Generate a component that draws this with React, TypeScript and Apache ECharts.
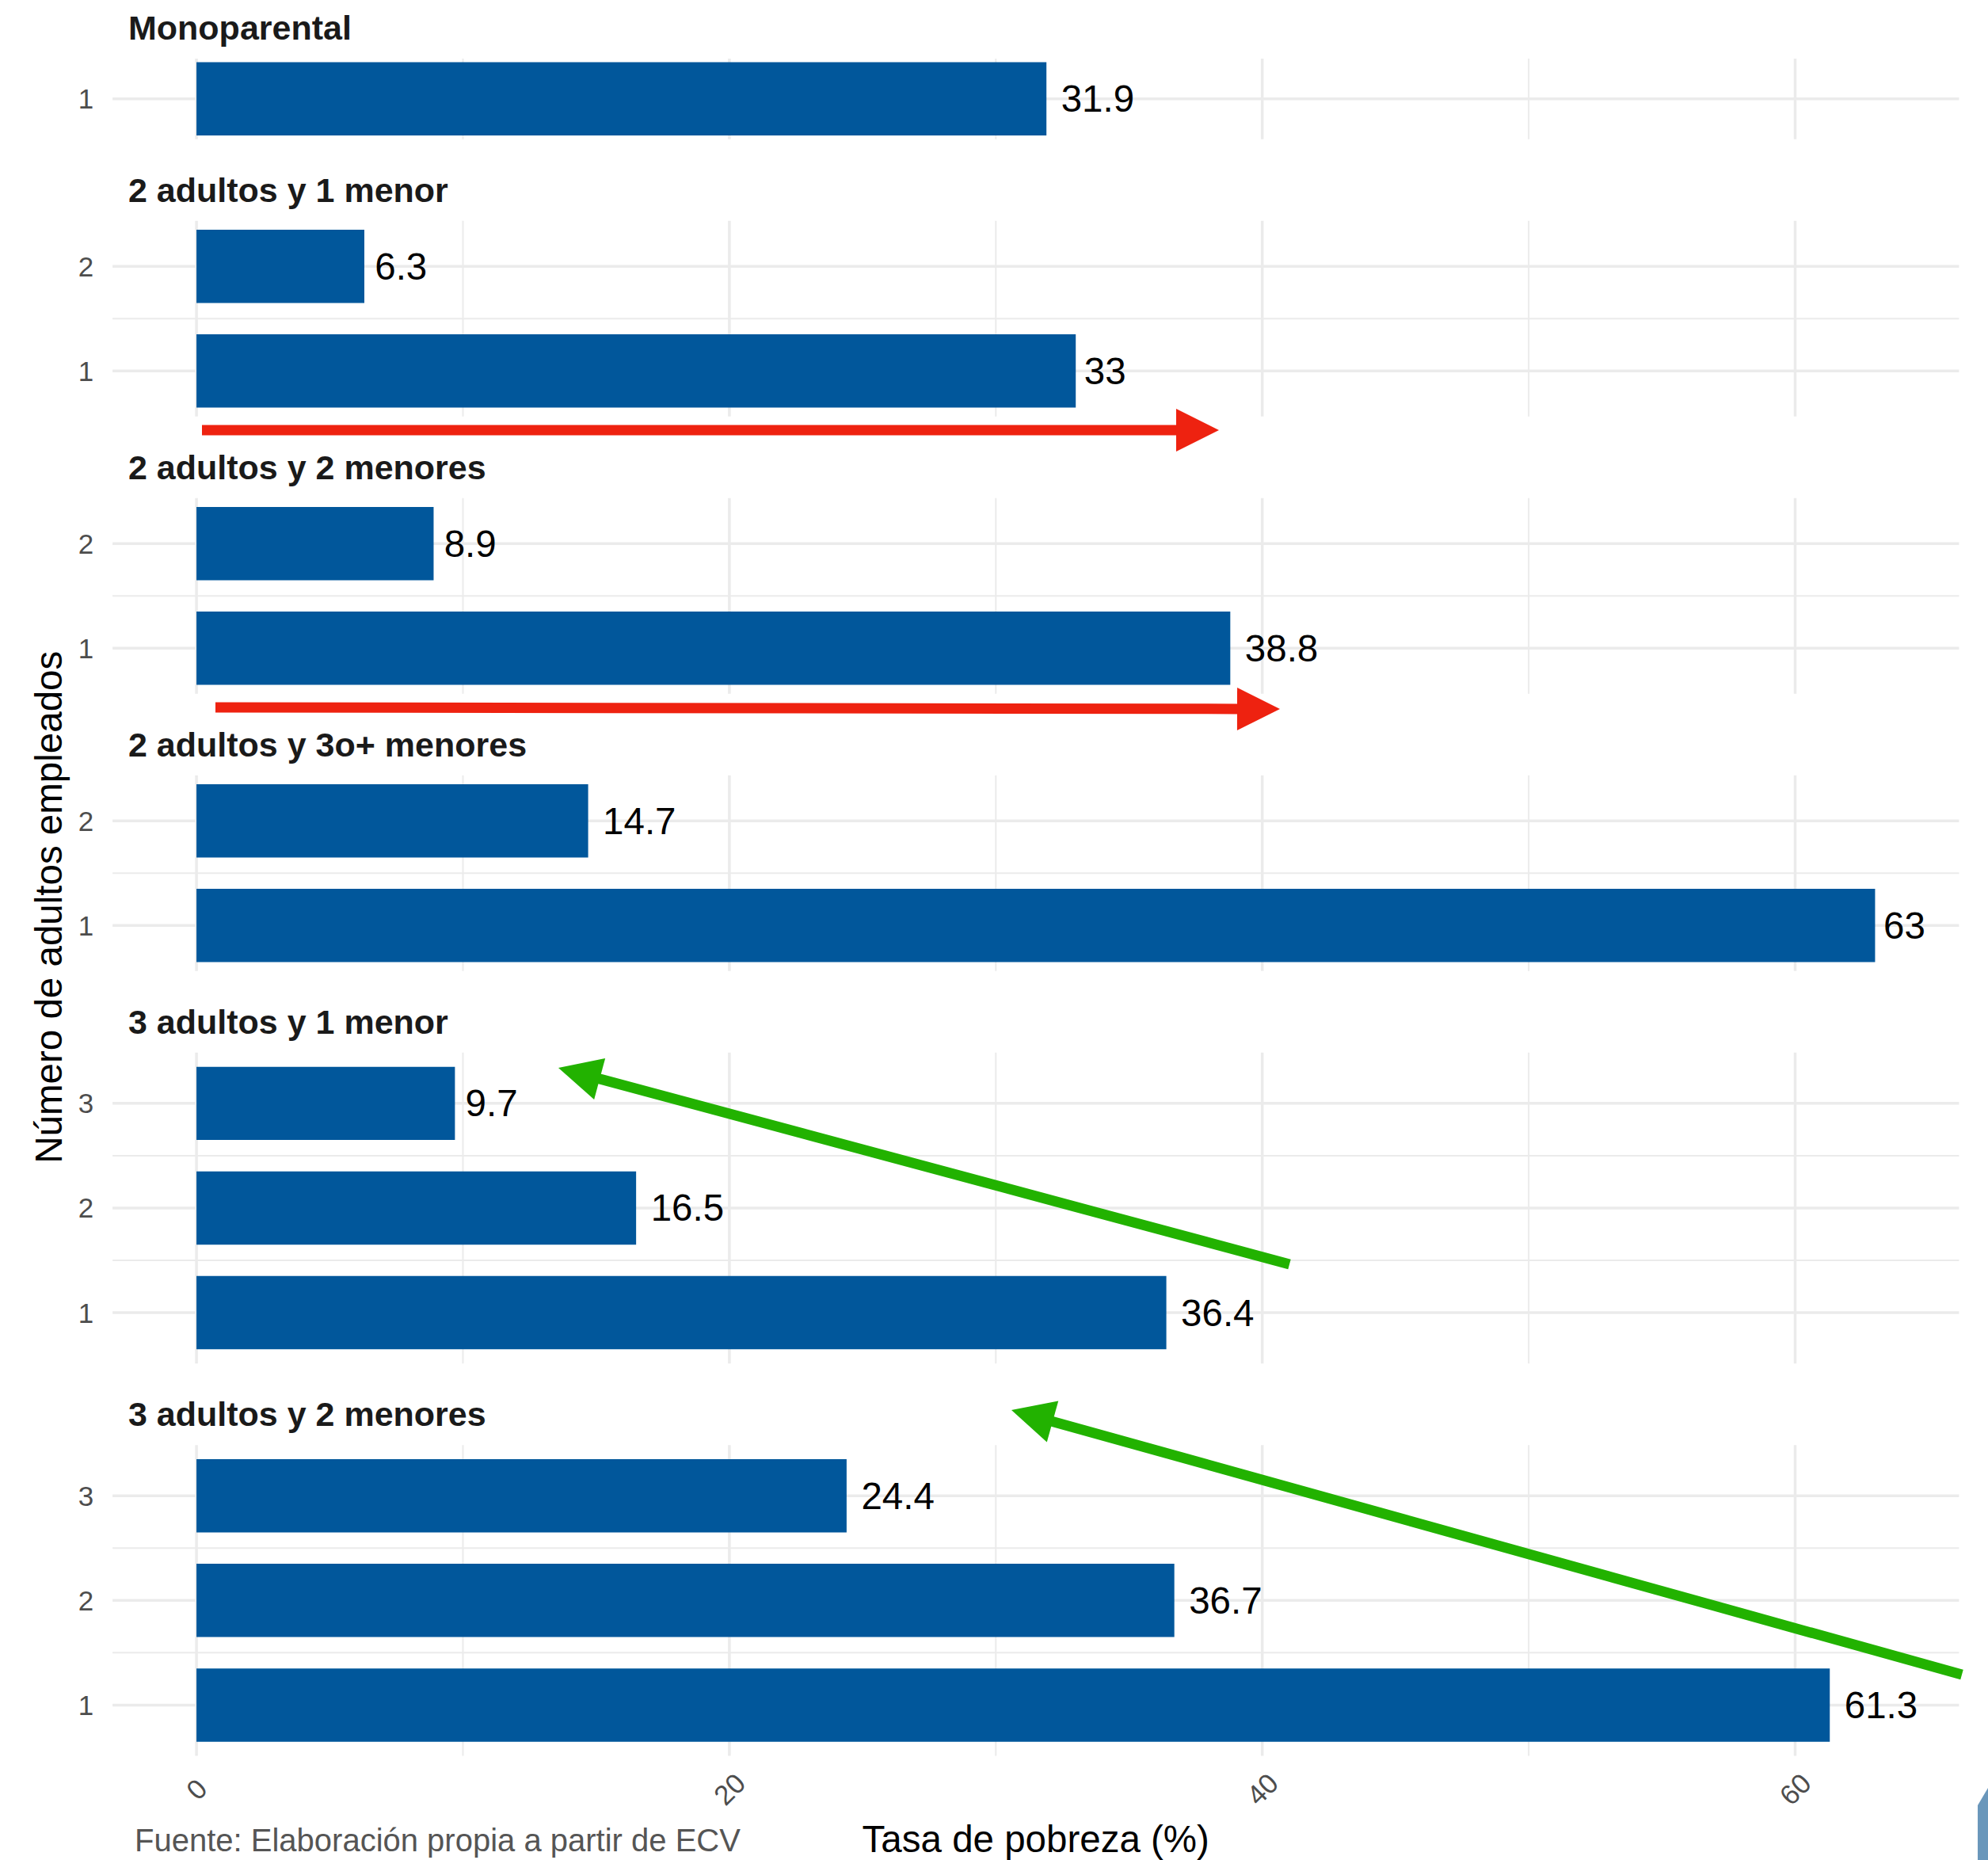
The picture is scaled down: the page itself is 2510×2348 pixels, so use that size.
import React, { useEffect, useRef } from "react";
import * as echarts from "echarts";

// ---------- data ----------
const panelNames = [
  "Monoparental",
  "2 adultos y 1 menor",
  "2 adultos y 2 menores",
  "2 adultos y 3o+ menores",
  "3 adultos y 1 menor",
  "3 adultos y 2 menores",
];
// index 0 -> 1 adulto empleado, 1 -> 2, 2 -> 3
const monoparental = [31.9];
const adultos2Menor1 = [33, 6.3];
const adultos2Menores2 = [38.8, 8.9];
const adultos2Menores3 = [63, 14.7];
const adultos3Menor1 = [36.4, 16.5, 9.7];
const adultos3Menores2 = [61.3, 36.7, 24.4];
const panelValues = [
  monoparental,
  adultos2Menor1,
  adultos2Menores2,
  adultos2Menores3,
  adultos3Menor1,
  adultos3Menores2,
];
const xTickValues = [0, 20, 40, 60];
const xMinorValues = [10, 30, 50];
const X_MIN = -3.15;
const X_MAX = 66.15;

const xTitle = "Tasa de pobreza (%)";
const yTitle = "Número de adultos empleados";
const caption = "Fuente: Elaboración propia a partir de ECV";

// ---------- style / layout ----------
const FONT = '"Liberation Sans", Arial, Helvetica, sans-serif';
const BAR_COLOR = "#01579B";
const GRID_COLOR = "#ebebeb";
const RED = "#ee2210";
const GREEN = "#22b200";
const BAR_HALF = 0.35;
const GRID_LEFT = 142.1;
const GRID_WIDTH = 2331.3;
const TOP0 = 74;
const UNIT = 132.1;
const GAP = 103;
const LABEL_SIZE = 47.5;

let measureCtx: CanvasRenderingContext2D | null = null;
function textWidth(text: string, font: string): number {
  if (!measureCtx) {
    const c = document.createElement("canvas");
    measureCtx = c.getContext("2d");
  }
  if (!measureCtx) return text.length * 25;
  measureCtx.font = font;
  return measureCtx.measureText(text).width;
}

export default function App() {
  const ref = useRef<HTMLDivElement>(null);

  useEffect(() => {
    if (!ref.current) return;
    const chart = echarts.init(ref.current, undefined, { renderer: "svg" });

    const grids: any[] = [];
    const xAxes: any[] = [];
    const yAxes: any[] = [];
    const series: any[] = [];
    const graphics: any[] = [];

    let top = TOP0;
    const last = panelValues.length - 1;
    panelValues.forEach((vals, i) => {
      const n = vals.length;
      const exp = 0.05 * (n - 1 + 2 * BAR_HALF);
      const lo = 1 - BAR_HALF - exp;
      const hi = n + BAR_HALF + exp;
      const height = (hi - lo) * UNIT;
      const cats = vals.map((_, k) => k + 1);

      grids.push({ left: GRID_LEFT, width: GRID_WIDTH, top, height, containLabel: false });
      xAxes.push({
        type: "value",
        gridIndex: i,
        min: X_MIN,
        max: X_MAX,
        splitLine: { show: false },
        axisLine: { show: false },
        axisTick: { show: false },
        axisLabel:
          i === last
            ? {
                customValues: xTickValues,
                rotate: 45,
                align: "center",
                verticalAlign: "middle",
                margin: 42,
                fontSize: 35,
                fontFamily: FONT,
                color: "#4d4d4d",
              }
            : { show: false },
      });
      yAxes.push({
        type: "value",
        gridIndex: i,
        min: lo,
        max: hi,
        splitLine: { show: false },
        axisLine: { show: false },
        axisTick: { show: false },
        axisLabel: {
          customValues: cats,
          margin: 24,
          fontSize: 35,
          fontFamily: FONT,
          color: "#4d4d4d",
        },
      });

      // gridlines: [position, kind(0 vertical / 1 horizontal), major]
      const gridData: number[][] = [];
      xTickValues.forEach((v) => gridData.push([v, 0, 1]));
      xMinorValues.forEach((v) => gridData.push([v, 0, 0]));
      cats.forEach((c) => gridData.push([c, 1, 1]));
      for (let k = 1; k < n; k++) gridData.push([k + 0.5, 1, 0]);

      series.push({
        type: "custom",
        xAxisIndex: i,
        yAxisIndex: i,
        silent: true,
        z: 1,
        data: gridData,
        renderItem: (params: any, api: any) => {
          const pos = api.value(0);
          const kind = api.value(1);
          const major = api.value(2);
          const cs = params.coordSys;
          const style = { stroke: GRID_COLOR, lineWidth: major ? 3.5 : 2 };
          if (kind === 0) {
            const x = api.coord([pos, lo])[0];
            return { type: "line", shape: { x1: x, y1: cs.y, x2: x, y2: cs.y + cs.height }, style };
          }
          const y = api.coord([0, pos])[1];
          return { type: "line", shape: { x1: cs.x, y1: y, x2: cs.x + cs.width, y2: y }, style };
        },
      });

      series.push({
        type: "custom",
        name: panelNames[i],
        xAxisIndex: i,
        yAxisIndex: i,
        z: 3,
        data: vals.map((v, k) => [v, k + 1]),
        renderItem: (params: any, api: any) => {
          const v = api.value(0);
          const c = api.value(1);
          const a = api.coord([0, c + BAR_HALF]);
          const b = api.coord([v, c - BAR_HALF]);
          const txt = String(v);
          const w = textWidth(txt, `${LABEL_SIZE}px ${FONT}`);
          return {
            type: "group",
            children: [
              {
                type: "rect",
                shape: { x: a[0], y: a[1], width: b[0] - a[0], height: b[1] - a[1] },
                style: { fill: BAR_COLOR },
              },
              {
                type: "text",
                x: b[0] + 0.2 * w,
                y: (a[1] + b[1]) / 2,
                style: {
                  text: txt,
                  fill: "#000000",
                  fontSize: LABEL_SIZE,
                  fontFamily: FONT,
                  align: "left",
                  verticalAlign: "middle",
                },
              },
            ],
          };
        },
      });

      graphics.push({
        type: "text",
        x: 162,
        y: top - 39,
        style: {
          text: panelNames[i],
          fill: "#1a1a1a",
          fontSize: 43,
          fontWeight: "bold",
          fontFamily: FONT,
          align: "left",
          verticalAlign: "middle",
        },
      });

      top += height + GAP;
    });

    const panelsBottom = top - GAP;
    const centerX = GRID_LEFT + GRID_WIDTH / 2;

    graphics.push({
      type: "text",
      x: centerX,
      y: 2321,
      style: { text: xTitle, fill: "#000000", fontSize: 47.5, fontFamily: FONT, align: "center", verticalAlign: "middle" },
    });
    graphics.push({
      type: "text",
      x: 61,
      y: (TOP0 + panelsBottom) / 2,
      rotation: Math.PI / 2,
      style: { text: yTitle, fill: "#000000", fontSize: 47.5, fontFamily: FONT, align: "center", verticalAlign: "middle" },
    });
    graphics.push({
      type: "text",
      x: 170,
      y: 2323,
      style: { text: caption, fill: "#555555", fontSize: 40, fontFamily: FONT, align: "left", verticalAlign: "middle" },
    });

    // annotation arrows (pixel space)
    const arrows = [
      { color: RED, from: [255, 543], to: [1539, 543] },
      { color: RED, from: [272, 893], to: [1616, 895] },
      { color: GREEN, from: [1628, 1596], to: [705, 1348] },
      { color: GREEN, from: [2477, 2114], to: [1277, 1780] },
    ];
    const HEAD_LEN = 54;
    const HEAD_HALF = 27;
    arrows.forEach((ar) => {
      const dx = ar.to[0] - ar.from[0];
      const dy = ar.to[1] - ar.from[1];
      const len = Math.hypot(dx, dy);
      const ux = dx / len;
      const uy = dy / len;
      const bx = ar.to[0] - ux * HEAD_LEN;
      const by = ar.to[1] - uy * HEAD_LEN;
      const px = -uy;
      const py = ux;
      graphics.push({
        type: "line",
        z: 20,
        shape: { x1: ar.from[0], y1: ar.from[1], x2: bx + ux * 2, y2: by + uy * 2 },
        style: { stroke: ar.color, lineWidth: 13, lineCap: "butt" },
      });
      graphics.push({
        type: "polygon",
        z: 20,
        shape: {
          points: [
            [bx + px * HEAD_HALF, by + py * HEAD_HALF],
            [ar.to[0], ar.to[1]],
            [bx - px * HEAD_HALF, by - py * HEAD_HALF],
          ],
        },
        style: { fill: ar.color },
      });
    });

    // cropped decorative shape at bottom-right corner
    graphics.push({
      type: "polygon",
      z: 20,
      shape: { points: [[2497, 2279], [2510, 2257], [2510, 2348], [2497, 2348]] },
      style: { fill: "#6a97bb" },
    });

    chart.setOption({
      animation: false,
      backgroundColor: "#ffffff",
      grid: grids,
      xAxis: xAxes,
      yAxis: yAxes,
      series,
      graphic: { elements: graphics },
    });

    return () => chart.dispose();
  }, []);

  return (
    <div
      ref={ref}
      style={{ position: "absolute", left: 0, top: 0, width: 2510, height: 2348, background: "#ffffff" }}
    />
  );
}
